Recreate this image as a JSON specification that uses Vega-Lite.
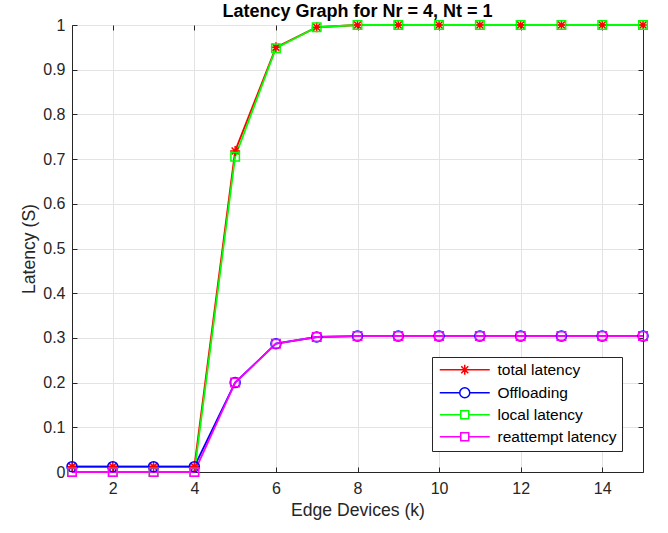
{
  "$schema": "https://vega.github.io/schema/vega-lite/v6.json",
  "autosize": "none",
  "width": 571,
  "height": 447,
  "padding": {"left": 72, "top": 25, "right": 25, "bottom": 61},
  "background": "white",
  "title": {"text": "Latency Graph for Nr = 4, Nt = 1", "font": "Liberation Sans", "fontSize": 18, "fontWeight": "bold", "color": "#000000", "offset": 5, "dy": 9, "anchor": "middle"},
  "config": {
    "view": {"stroke": "#262626", "strokeWidth": 1},
    "axis": {"labelFont": "Liberation Sans", "titleFont": "Liberation Sans", "labelFontSize": 16, "titleFontSize": 17.6, "titleFontWeight": "normal", "labelColor": "#262626", "titleColor": "#262626", "domainColor": "#262626", "tickColor": "#262626", "gridColor": "#e3e3e3", "gridOpacity": 1},
    "legend": {"title": null, "orient": "bottom-right", "offset": 21, "fillColor": "white", "strokeColor": "#262626", "padding": 5, "labelFont": "Liberation Sans", "labelFontSize": 15.5, "labelColor": "#000000", "labelOffset": 45, "rowPadding": 5, "symbolSize": 100, "symbolStrokeWidth": 1.5, "symbolFillColor": "transparent", "symbolOpacity": 1}
  },
  "data": {"values": [
    {"k":1,"s":"total latency","v":0.012},{"k":2,"s":"total latency","v":0.012},{"k":3,"s":"total latency","v":0.012},{"k":4,"s":"total latency","v":0.012},{"k":5,"s":"total latency","v":0.718},{"k":6,"s":"total latency","v":0.95},{"k":7,"s":"total latency","v":0.995},{"k":8,"s":"total latency","v":1},{"k":9,"s":"total latency","v":1},{"k":10,"s":"total latency","v":1},{"k":11,"s":"total latency","v":1},{"k":12,"s":"total latency","v":1},{"k":13,"s":"total latency","v":1},{"k":14,"s":"total latency","v":1},{"k":15,"s":"total latency","v":1},
    {"k":1,"s":"Offloading","v":0.012},{"k":2,"s":"Offloading","v":0.012},{"k":3,"s":"Offloading","v":0.012},{"k":4,"s":"Offloading","v":0.012},{"k":5,"s":"Offloading","v":0.2},{"k":6,"s":"Offloading","v":0.287},{"k":7,"s":"Offloading","v":0.302},{"k":8,"s":"Offloading","v":0.304},{"k":9,"s":"Offloading","v":0.304},{"k":10,"s":"Offloading","v":0.304},{"k":11,"s":"Offloading","v":0.304},{"k":12,"s":"Offloading","v":0.304},{"k":13,"s":"Offloading","v":0.304},{"k":14,"s":"Offloading","v":0.304},{"k":15,"s":"Offloading","v":0.304},
    {"k":1,"s":"local latency","v":0},{"k":2,"s":"local latency","v":0},{"k":3,"s":"local latency","v":0},{"k":4,"s":"local latency","v":0},{"k":5,"s":"local latency","v":0.705},{"k":6,"s":"local latency","v":0.948},{"k":7,"s":"local latency","v":0.995},{"k":8,"s":"local latency","v":1},{"k":9,"s":"local latency","v":1},{"k":10,"s":"local latency","v":1},{"k":11,"s":"local latency","v":1},{"k":12,"s":"local latency","v":1},{"k":13,"s":"local latency","v":1},{"k":14,"s":"local latency","v":1},{"k":15,"s":"local latency","v":1},
    {"k":1,"s":"reattempt latency","v":0},{"k":2,"s":"reattempt latency","v":0},{"k":3,"s":"reattempt latency","v":0},{"k":4,"s":"reattempt latency","v":0},{"k":5,"s":"reattempt latency","v":0.2},{"k":6,"s":"reattempt latency","v":0.287},{"k":7,"s":"reattempt latency","v":0.302},{"k":8,"s":"reattempt latency","v":0.304},{"k":9,"s":"reattempt latency","v":0.304},{"k":10,"s":"reattempt latency","v":0.304},{"k":11,"s":"reattempt latency","v":0.304},{"k":12,"s":"reattempt latency","v":0.304},{"k":13,"s":"reattempt latency","v":0.304},{"k":14,"s":"reattempt latency","v":0.304},{"k":15,"s":"reattempt latency","v":0.304}
  ]},
  "layer": [
    {
      "mark": {"type": "line", "strokeWidth": 1.8},
      "encoding": {
        "x": {"field": "k", "type": "quantitative", "scale": {"domain": [1, 15], "nice": false, "zero": false}, "axis": {"orient": "bottom", "title": "Edge Devices (k)", "values": [2,4,6,8,10,12,14], "tickSize": -5, "labelPadding": 13, "titlePadding": 5, "grid": true}},
        "y": {"field": "v", "type": "quantitative", "scale": {"domain": [0, 1], "nice": false}, "axis": {"orient": "left", "title": "Latency (S)", "values": [0,0.1,0.2,0.3,0.4,0.5,0.6,0.7,0.8,0.9,1], "format": "~g", "tickSize": -5, "labelPadding": 12, "titlePadding": 4, "grid": true}},
        "color": {"field": "s", "type": "nominal", "sort": null, "scale": {"domain": ["total latency","Offloading","local latency","reattempt latency"], "range": ["#FF0000","#0000FF","#00FF00","#FF00FF"]}},
        "detail": {"field": "s"}
      }
    },
    {
      "transform": [{"filter": "datum.k > 100"}],
      "mark": {"type": "point", "filled": false, "strokeWidth": 1.5, "opacity": 1},
      "encoding": {
        "x": {"field": "k", "type": "quantitative", "axis": null},
        "y": {"field": "v", "type": "quantitative", "axis": null},
        "color": {"field": "s", "type": "nominal", "sort": null},
        "shape": {"field": "s", "type": "nominal", "sort": null, "scale": {"domain": ["total latency","Offloading","local latency","reattempt latency"], "range": ["M-1,0L9,0M3,0L5,0M4,-1L4,1M3.3,-0.7L4.7,0.7M3.3,0.7L4.7,-0.7", "M-1,0L3,0M5,0L9,0M3,0A1,1 0 1,0 5,0A1,1 0 1,0 3,0", "M-1,0L3.2,0M4.8,0L9,0M3.2,-0.8L4.8,-0.8L4.8,0.8L3.2,0.8Z", "M-1,0L3.2,0M4.8,0L9,0M3.2,-0.8L4.8,-0.8L4.8,0.8L3.2,0.8Z"]}}
      }
    },
    {
      "transform": [{"filter": "datum.s === 'total latency'"}],
      "mark": {"type": "point", "filled": false, "strokeWidth": 1.5, "size": 100, "opacity": 1, "color": "#FF0000", "shape": "M-1,0L1,0M0,-1L0,1M-0.7,-0.7L0.7,0.7M-0.7,0.7L0.7,-0.7"},
      "encoding": {
        "x": {"field": "k", "type": "quantitative", "axis": {"orient": "top", "title": null, "labels": false, "domain": false, "grid": false, "tickSize": -5, "values": [2,4,6,8,10,12,14]}},
        "y": {"field": "v", "type": "quantitative", "axis": {"orient": "right", "title": null, "labels": false, "domain": false, "grid": false, "tickSize": -5, "values": [0,0.1,0.2,0.3,0.4,0.5,0.6,0.7,0.8,0.9,1]}}
      }
    },
    {
      "transform": [{"filter": "datum.s === 'Offloading'"}],
      "mark": {"type": "point", "filled": false, "strokeWidth": 1.5, "size": 100, "opacity": 1, "color": "#0000FF", "shape": "circle"},
      "encoding": {
        "x": {"field": "k", "type": "quantitative", "axis": null},
        "y": {"field": "v", "type": "quantitative", "axis": null}
      }
    },
    {
      "transform": [{"filter": "datum.s === 'local latency'"}],
      "mark": {"type": "point", "filled": false, "strokeWidth": 1.5, "size": 100, "opacity": 1, "color": "#00FF00", "shape": "M-0.85,-0.85L0.85,-0.85L0.85,0.85L-0.85,0.85Z"},
      "encoding": {
        "x": {"field": "k", "type": "quantitative", "axis": null},
        "y": {"field": "v", "type": "quantitative", "axis": null}
      }
    },
    {
      "transform": [{"filter": "datum.s === 'reattempt latency'"}],
      "mark": {"type": "point", "filled": false, "strokeWidth": 1.5, "size": 100, "opacity": 1, "color": "#FF00FF", "shape": "M-0.85,-0.85L0.85,-0.85L0.85,0.85L-0.85,0.85Z"},
      "encoding": {
        "x": {"field": "k", "type": "quantitative", "axis": null},
        "y": {"field": "v", "type": "quantitative", "axis": null}
      }
    }
  ],
  "resolve": {"axis": {"x": "independent", "y": "independent"}}
}
